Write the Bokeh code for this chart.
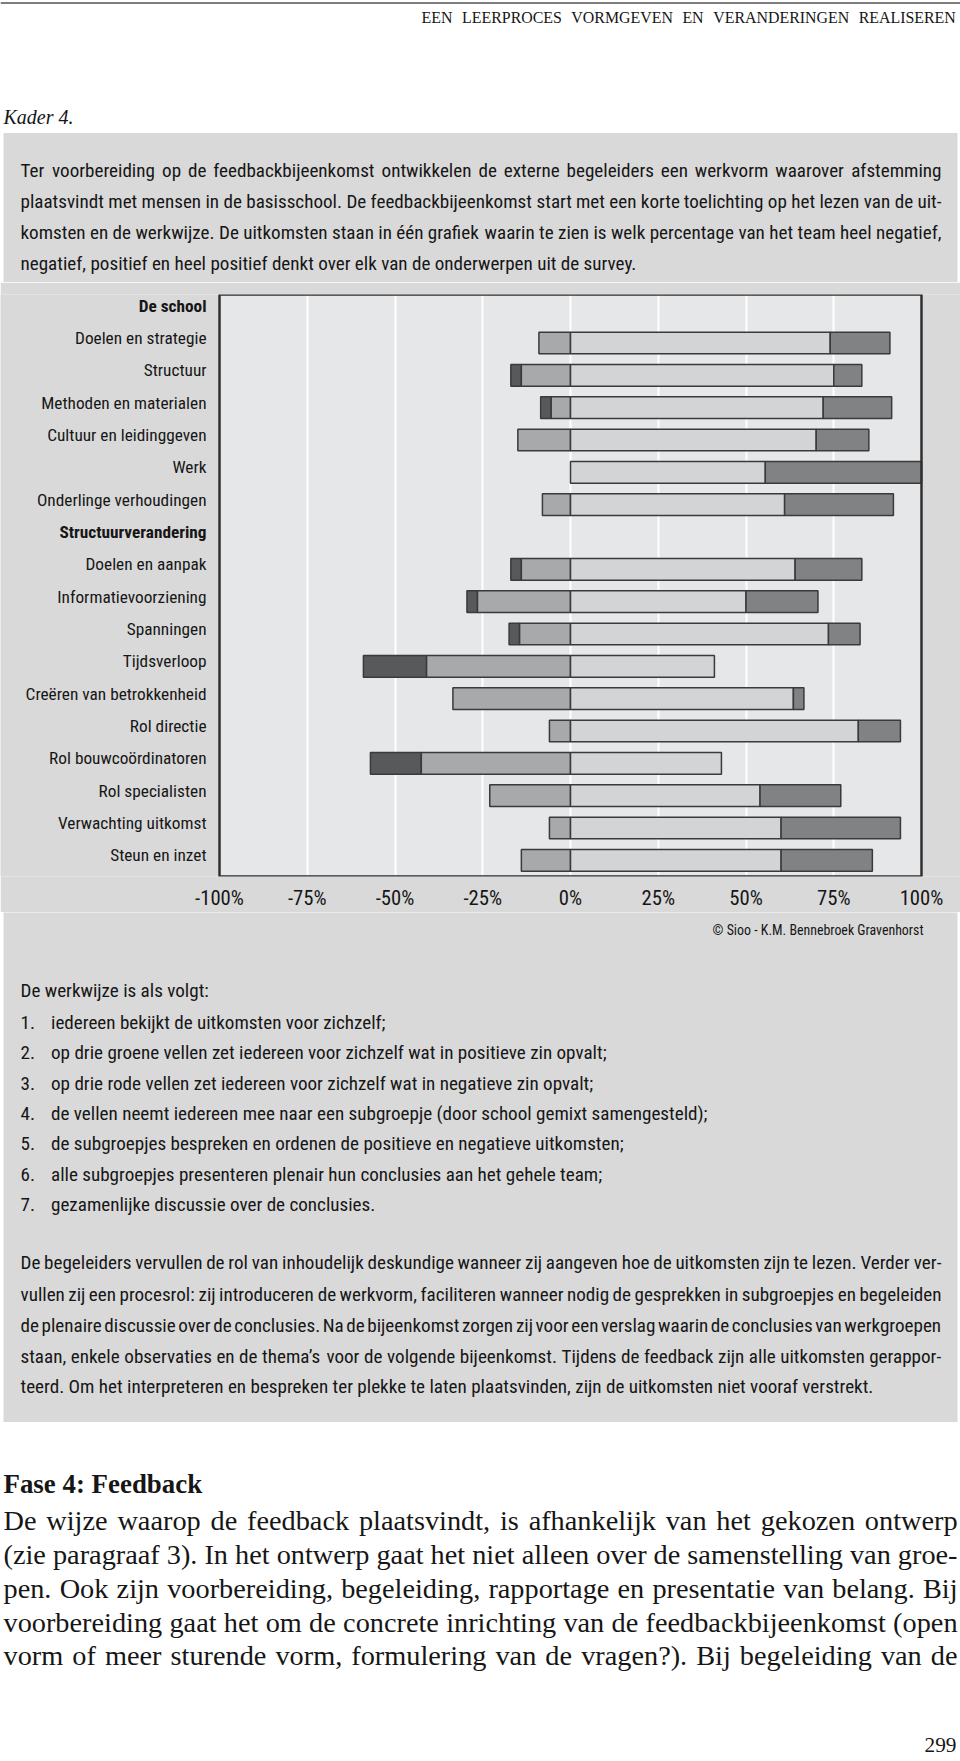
import os
import glob
import struct

from bokeh.plotting import figure
from bokeh.models import Range1d, FactorRange, ColumnDataSource, BoxAnnotation
from bokeh.layouts import column
from bokeh.core.properties import value, field
from bokeh.embed import file_html
from bokeh.resources import INLINE

# ------------------------------------------------------------------ data
rows = ["De school", "Doelen en strategie", "Structuur", "Methoden en materialen",
        "Cultuur en leidinggeven", "Werk", "Onderlinge verhoudingen", "Structuurverandering",
        "Doelen en aanpak", "Informatievoorziening", "Spanningen", "Tijdsverloop",
        "Creëren van betrokkenheid", "Rol directie", "Rol bouwcoördinatoren", "Rol specialisten",
        "Verwachting uitkomst", "Steun en inzet"]
header_rows = ["De school", "Structuurverandering"]
very_negative = [None, 0, 3, 3, 0, 0, 0, None, 3, 3, 3, 18, 0, 0, 14.5, 0, 0, 0]
negative = [None, 9, 14, 5.5, 15, 0, 8, None, 14, 26.5, 14.5, 41, 33.5, 6, 42.5, 23, 6, 14]
positive = [None, 74, 75, 72, 70, 55.5, 61, None, 64, 50, 73.5, 41, 63.5, 82, 43, 54, 60, 60]
very_positive = [None, 17, 8, 19.5, 15, 44.5, 31, None, 19, 20.5, 9, 0, 3, 12, 0, 23, 34, 26]
x_ticks = [-100, -75, -50, -25, 0, 25, 50, 75, 100]
x_tick_labels = ["-100%", "-75%", "-50%", "-25%", "0%", "25%", "50%", "75%", "100%"]

header_text = "EEN LEERPROCES VORMGEVEN EN VERANDERINGEN REALISEREN"
kader_text = "Kader 4."
intro_lines = [
    "Ter voorbereiding op de feedbackbijeenkomst ontwikkelen de externe begeleiders een werkvorm waarover afstemming",
    "plaatsvindt met mensen in de basisschool. De feedbackbijeenkomst start met een korte toelichting op het lezen van de uit-",
    "komsten en de werkwijze. De uitkomsten staan in één grafiek waarin te zien is welk percentage van het team heel negatief,",
    "negatief, positief en heel positief denkt over elk van de onderwerpen uit de survey.",
]
credit_text = "© Sioo - K.M. Bennebroek Gravenhorst"
werkwijze_title = "De werkwijze is als volgt:"
list_numbers = ["1.", "2.", "3.", "4.", "5.", "6.", "7."]
list_items = [
    "iedereen bekijkt de uitkomsten voor zichzelf;",
    "op drie groene vellen zet iedereen voor zichzelf wat in positieve zin opvalt;",
    "op drie rode vellen zet iedereen voor zichzelf wat in negatieve zin opvalt;",
    "de vellen neemt iedereen mee naar een subgroepje (door school gemixt samengesteld);",
    "de subgroepjes bespreken en ordenen de positieve en negatieve uitkomsten;",
    "alle subgroepjes presenteren plenair hun conclusies aan het gehele team;",
    "gezamenlijke discussie over de conclusies.",
]
closing_lines = [
    "De begeleiders vervullen de rol van inhoudelijk deskundige wanneer zij aangeven hoe de uitkomsten zijn te lezen. Verder ver-",
    "vullen zij een procesrol: zij introduceren de werkvorm, faciliteren wanneer nodig de gesprekken in subgroepjes en begeleiden",
    "de plenaire discussie over de conclusies. Na de bijeenkomst zorgen zij voor een verslag waarin de conclusies van werkgroepen",
    "staan, enkele observaties en de thema’s voor de volgende bijeenkomst. Tijdens de feedback zijn alle uitkomsten gerappor-",
    "teerd. Om het interpreteren en bespreken ter plekke te laten plaatsvinden, zijn de uitkomsten niet vooraf verstrekt.",
]
fase_title = "Fase 4: Feedback"
body_lines = [
    "De wijze waarop de feedback plaatsvindt, is afhankelijk van het gekozen ontwerp",
    "(zie paragraaf 3). In het ontwerp gaat het niet alleen over de samenstelling van groe-",
    "pen. Ook zijn voorbereiding, begeleiding, rapportage en presentatie van belang. Bij",
    "voorbereiding gaat het om de concrete inrichting van de feedbackbijeenkomst (open",
    "vorm of meer sturende vorm, formulering van de vragen?). Bij begeleiding van de",
]
page_number = "299"

# ------------------------------------------------------------------ style
FONT_SANS = "Roboto Condensed"
FONT_SERIF = "Liberation Serif"
INK = "#161616"
BOX_BG = "#d9d9d9"
PLOT_BG = "#e6e7e8"
C_VNEG = "#58595b"
C_NEG = "#a7a9ab"
C_POS = "#d3d4d5"
C_VPOS = "#818284"
BAR_LINE = "#3a3a3a"
W = 960
PAGE_L, PAGE_R = 0, 960
PAGE_BOTTOM = 1759
BOX_L, BOX_R, BOX_T, BOX_B = 3, 957, 132.5, 1421.5
# plot area of the chart on the page (pixels)
PLOT_L, PLOT_R, PLOT_T, PLOT_B = 219, 921, 294, 877


# ------------------------------------------------------------------ font metrics (for justified lines)
def find_font(patterns):
    roots = ["/usr/share/fonts", "/usr/local/share/fonts",
             os.path.expanduser("~/.fonts"), os.path.expanduser("~/.local/share/fonts")]
    for pat in patterns:
        for root in roots:
            if not os.path.isdir(root):
                continue
            hits = sorted(glob.glob(os.path.join(root, "**", pat), recursive=True))
            if hits:
                return hits[0]
    return None


class FontMetrics:
    def __init__(self, path, fallback_em):
        self.fallback = fallback_em
        self.ok = False
        if path:
            try:
                with open(path, "rb") as fh:
                    self._parse(fh.read())
                self.ok = True
            except Exception:
                self.ok = False

    def _parse(self, d):
        off = 0
        if d[:4] == b"ttcf":
            off = struct.unpack(">I", d[12:16])[0]
        n = struct.unpack(">H", d[off + 4:off + 6])[0]
        t = {}
        for i in range(n):
            r = off + 12 + 16 * i
            t[d[r:r + 4].decode("latin-1")] = struct.unpack(">I", d[r + 8:r + 12])[0]
        self.upem = struct.unpack(">H", d[t["head"] + 18:t["head"] + 20])[0]
        nhm = struct.unpack(">H", d[t["hhea"] + 34:t["hhea"] + 36])[0]
        h = t["hmtx"]
        self.adv = [struct.unpack(">H", d[h + 4 * i:h + 4 * i + 2])[0] for i in range(nhm)]
        c = t["cmap"]
        nsub = struct.unpack(">H", d[c + 2:c + 4])[0]
        subs = {}
        for i in range(nsub):
            pid, eid, so = struct.unpack(">HHI", d[c + 4 + 8 * i:c + 12 + 8 * i])
            fmt = struct.unpack(">H", d[c + so:c + so + 2])[0]
            subs.setdefault(fmt, c + so)
        self.cmap = {}
        if 12 in subs:
            s = subs[12]
            ng = struct.unpack(">I", d[s + 12:s + 16])[0]
            for g in range(ng):
                a, b, gid = struct.unpack(">III", d[s + 16 + 12 * g:s + 28 + 12 * g])
                for cp in range(a, min(b, 0x2FFF) + 1):
                    self.cmap[cp] = gid + cp - a
        elif 4 in subs:
            s = subs[4]
            segx2 = struct.unpack(">H", d[s + 6:s + 8])[0]
            sc = segx2 // 2
            ends = struct.unpack(">%dH" % sc, d[s + 14:s + 14 + segx2])
            starts = struct.unpack(">%dH" % sc, d[s + 16 + segx2:s + 16 + 2 * segx2])
            deltas = struct.unpack(">%dh" % sc, d[s + 16 + 2 * segx2:s + 16 + 3 * segx2])
            rpos = s + 16 + 3 * segx2
            ros = struct.unpack(">%dH" % sc, d[rpos:rpos + segx2])
            for i in range(sc):
                for cp in range(starts[i], min(ends[i], 0x2FFF) + 1):
                    if ros[i] == 0:
                        gid = (cp + deltas[i]) & 0xFFFF
                    else:
                        a = rpos + 2 * i + ros[i] + 2 * (cp - starts[i])
                        gid = struct.unpack(">H", d[a:a + 2])[0]
                        if gid:
                            gid = (gid + deltas[i]) & 0xFFFF
                    self.cmap[cp] = gid

    def width(self, text):
        if not self.ok:
            return self.fallback * len(text)
        tot = 0
        for ch in text:
            g = self.cmap.get(ord(ch), 0)
            tot += self.adv[min(g, len(self.adv) - 1)]
        return tot / self.upem


m_sans = FontMetrics(find_font(["RobotoCondensed-Regular.ttf", "RobotoCondensed-Regular.otf",
                                "RobotoCondensed*.ttf"]), 0.42)
m_serif = FontMetrics(find_font(["LiberationSerif-Regular.ttf"]), 0.44)
m_serif_b = FontMetrics(find_font(["LiberationSerif-Bold.ttf"]), 0.47)
m_serif_i = FontMetrics(find_font(["LiberationSerif-Italic.ttf"]), 0.42)


def fit(m, text, width, lo, hi):
    return max(lo, min(hi, width / max(m.width(text), 1e-6)))


def median(vals):
    v = sorted(vals)
    return v[len(v) // 2] if len(v) % 2 else 0.5 * (v[len(v) // 2 - 1] + v[len(v) // 2])


# font sizes calibrated on widths measured in the reference
s_box = median([fit(m_sans, closing_lines[-1], 845, 14, 22), fit(m_sans, intro_lines[-1], 617, 14, 22),
                fit(m_sans, werkwijze_title, 189, 14, 22), fit(m_sans, list_items[3], 657, 14, 22),
                fit(m_sans, list_items[1], 560, 14, 22)])
s_label = median([fit(m_sans, "Creëren van betrokkenheid", 183, 13, 22),
                  fit(m_sans, "Doelen en strategie", 131, 13, 22),
                  fit(m_sans, "Onderlinge verhoudingen", 169, 13, 22),
                  fit(m_sans, "Methoden en materialen", 166, 13, 22)])
s_tick = median([fit(m_sans, "-100%", 49, 14, 22), fit(m_sans, "-75%", 39, 14, 22),
                 fit(m_sans, "100%", 42, 14, 22)])
s_credit = fit(m_sans, credit_text, 211, 12, 18)
s_head = fit(m_serif, header_text, 505, 11, 16)
s_kader = fit(m_serif_i, kader_text, 70, 16, 24)
s_fase = fit(m_serif_b, fase_title, 199, 18, 30)
s_body = min(fit(m_serif, ln, 954, 18, 30) for ln in body_lines)
s_page = fit(m_serif, page_number, 32, 18, 26)


# ------------------------------------------------------------------ helpers
def no_align(p):
    try:
        p.frame_align = False
    except Exception:
        pass
    return p


def page_fig(y0, y1):
    p = figure(width=W, height=int(round(y1 - y0)), x_range=Range1d(PAGE_L, PAGE_R),
               y_range=Range1d(y1, y0), output_backend="svg", toolbar_location=None,
               x_axis_location=None, y_axis_location=None, min_border=0,
               outline_line_color=None, background_fill_color="white", border_fill_color="white")
    p.grid.visible = False
    return no_align(p)


def draw_text(p, xs, ys, texts, font, size, style="normal", align="left", color=INK):
    src = ColumnDataSource(dict(x=list(xs), y=list(ys), text=list(texts)))
    p.text(x="x", y="y", text="text", source=src, text_font=value(font),
           text_font_size="%.1fpx" % size, text_font_style=style, text_align=align,
           text_baseline="middle", text_color=color)


def draw_paragraph(p, lines, ys, x0, x1, m, font, size, justify_last=False, style="normal"):
    X, Y, T = [], [], []
    for i, (ln, y) in enumerate(zip(lines, ys)):
        justify = justify_last or i < len(lines) - 1
        words = ln.split(" ")
        if not justify or len(words) < 2:
            X.append(x0); Y.append(y); T.append(ln)
            continue
        ws = [m.width(w) * size for w in words]
        sp = m.width(" ") * size
        gap = max((x1 - x0 - sum(ws)) / (len(words) - 1), 0.4 * sp)
        x = x0
        for w, wd in zip(words, ws):
            X.append(x); Y.append(y); T.append(w)
            x += wd + gap
    draw_text(p, X, Y, T, font, size, style)


# ------------------------------------------------------------------ top part of the page
CHART_TOP, CHART_BOTTOM = 282, 912
top = page_fig(0, CHART_TOP)
top.line(x=[PAGE_L, PAGE_R], y=[2.5, 2.5], line_color="#7d7d7d", line_width=2)
draw_paragraph(top, [header_text], [16.5], 421, 955, m_serif, FONT_SERIF, s_head, justify_last=True)
draw_text(top, [3], [116], [kader_text], FONT_SERIF, s_kader, style="italic")
# grey box (continues below the visible edge so no seam appears)
top.quad(left=[BOX_L], right=[BOX_R], top=[BOX_T], bottom=[CHART_TOP + 10], fill_color=BOX_BG,
         line_color=None)
draw_paragraph(top, intro_lines, [169.5, 201, 231.5, 263], 20, 941, m_sans, FONT_SANS, s_box)

# ------------------------------------------------------------------ chart
# the frame spans the whole width; the x range is widened so that -100..100 falls on the plot area
units_per_px = (x_ticks[-1] - x_ticks[0]) / (PLOT_R - PLOT_L)
x_start = x_ticks[0] - (PLOT_L - PAGE_L) * units_per_px
x_end = x_ticks[-1] + (PAGE_R - PLOT_R) * units_per_px
chart = figure(width=W, height=CHART_BOTTOM - CHART_TOP, x_range=Range1d(x_start, x_end),
               y_range=FactorRange(factors=rows[::-1]), output_backend="svg",
               toolbar_location=None, y_axis_location=None, title=None,
               min_border_left=0, min_border_right=0, min_border_top=PLOT_T - CHART_TOP,
               min_border_bottom=CHART_BOTTOM - PLOT_B,
               background_fill_color=BOX_BG, border_fill_color=BOX_BG, outline_line_color=None)
no_align(chart)
chart.add_layout(BoxAnnotation(left=x_ticks[0], right=x_ticks[-1], fill_color=PLOT_BG, fill_alpha=1.0,
                               line_color=None, level="image"))
chart.ygrid.visible = False
chart.xaxis.ticker = x_ticks
chart.xaxis.major_label_overrides = {t: lab for t, lab in zip(x_ticks, x_tick_labels)}
chart.xaxis.axis_line_color = None
chart.xaxis.major_tick_line_color = None
chart.xaxis.minor_tick_line_color = None
chart.xaxis.major_tick_out = 0
chart.xaxis.major_tick_in = 0
chart.xaxis.major_label_standoff = 9
chart.xaxis.major_label_text_font = FONT_SANS
chart.xaxis.major_label_text_font_size = "%.1fpx" % s_tick
chart.xaxis.major_label_text_color = INK
chart.xgrid.grid_line_color = "white"
chart.xgrid.grid_line_width = 2

segments = {k: dict(y=[], left=[], right=[]) for k in ("vneg", "neg", "pos", "vpos")}


def add_seg(key, row, a, b):
    if b - a > 0:
        segments[key]["y"].append(row)
        segments[key]["left"].append(a)
        segments[key]["right"].append(b)


for r, vn, ng, ps, vp in zip(rows, very_negative, negative, positive, very_positive):
    if r in header_rows:
        continue
    add_seg("vneg", r, -(ng + vn), -ng)
    add_seg("neg", r, -ng, 0)
    add_seg("pos", r, 0, ps)
    add_seg("vpos", r, ps, ps + vp)

for key, col in (("vneg", C_VNEG), ("neg", C_NEG), ("pos", C_POS), ("vpos", C_VPOS)):
    chart.hbar(y="y", left="left", right="right", height=0.67, source=ColumnDataSource(segments[key]),
               fill_color=col, line_color=BAR_LINE, line_width=1.5)

# frame of the plot area, drawn over the bars
chart.add_layout(BoxAnnotation(left=x_ticks[0], right=x_ticks[-1], fill_alpha=0.0, fill_color=None,
                               line_color="#2e2e2e", line_width=2.5, line_alpha=1.0))

label_src = ColumnDataSource(dict(
    x=[x_ticks[0]] * len(rows), y=rows, text=rows,
    style=["bold" if r in header_rows else "normal" for r in rows]))
chart.text(x="x", y="y", text="text", source=label_src, x_offset=-13, y_offset=-5,
           text_align="right", text_baseline="middle", text_font=value(FONT_SANS),
           text_font_size="%.1fpx" % s_label, text_font_style=field("style"), text_color=INK)

# ------------------------------------------------------------------ bottom part of the page
bottom = page_fig(CHART_BOTTOM, PAGE_BOTTOM)
bottom.quad(left=[BOX_L], right=[BOX_R], top=[CHART_BOTTOM - 10], bottom=[BOX_B], fill_color=BOX_BG,
            line_color=None)
draw_text(bottom, [923], [929], [credit_text], FONT_SANS, s_credit, align="right")
draw_text(bottom, [20], [990], [werkwijze_title], FONT_SANS, s_box)
list_y = [1022, 1052, 1082.5, 1113, 1143, 1173.5, 1204]
draw_text(bottom, [20] * len(list_numbers), list_y, list_numbers, FONT_SANS, s_box)
draw_text(bottom, [50.5] * len(list_items), list_y, list_items, FONT_SANS, s_box)
draw_paragraph(bottom, closing_lines, [1262, 1293.5, 1325, 1355.5, 1386], 20, 941, m_sans, FONT_SANS, s_box)
draw_text(bottom, [3], [1483], [fase_title], FONT_SERIF, s_fase, style="bold")
draw_paragraph(bottom, body_lines, [1520, 1554, 1588, 1621.5, 1655], 3, 957, m_serif, FONT_SERIF,
               s_body, justify_last=True)
draw_text(bottom, [956], [1744], [page_number], FONT_SERIF, s_page, align="right")

layout = column(top, chart, bottom, spacing=0)
open("out.html", "w").write(file_html(layout, INLINE))
